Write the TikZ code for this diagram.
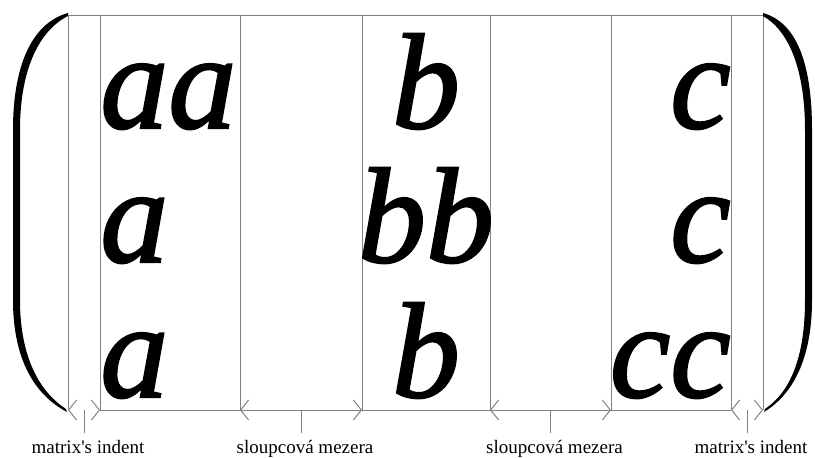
\documentclass[tikz,border=0pt]{standalone}
\usepackage{fontspec}
\setmainfont{Liberation Serif}
\newfontface\cellfont[FakeBold=1.6]{Liberation Serif Italic}
\usetikzlibrary{arrows.meta,calc}
\tikzset{
  guide/.style={draw=black!50, line width=0.5pt},
  gap/.style={draw=white, line width=0.5pt,
    {Straight Barb[length=4pt, width=10pt, color=black!50]}-{Straight Barb[length=4pt, width=10pt, color=black!50]}},
  cell/.style={inner sep=0pt, font=\fontsize{68}{68}\cellfont},
  gaplab/.style={inner sep=0pt, anchor=base, font=\fontsize{9.5}{11}\selectfont},
  paren/.style={fill=black},
}

\begin{document}
\begin{tikzpicture}[x=0.5pt, y=-0.5pt]
  \useasboundingbox (0,0) rectangle (815,457);
  % guide points
  \foreach \x [count=\i] in {68,100,240,362,490,611,731,763} {
    \coordinate (t\i) at (\x,15);
    \coordinate (b\i) at (\x,410);
  }
  % gaps and their labels
  \foreach \a/\b/\txt [count=\j] in {1/2/matrix\textquotesingle s indent,
      3/4/sloupcová mezera, 5/6/sloupcová mezera, 7/8/matrix\textquotesingle s indent} {
    \draw[gap] (b\a) -- (b\b);
    \draw[guide] ($(b\a)!.5!(b\b)$) -- ++(0,23) coordinate (k\j);
    \node[gaplab] (lab\j) at ($(k\j)+(4,20)$) {\txt};
  }
  % frame
  \foreach \i in {1,...,8}
    \draw[guide] (t\i) -- (b\i);
  \draw[guide] (t1) -- (t8);
  \draw[guide] (b2) -- (b7);
  % entries
  \node[cell, anchor=base west] (a11) at (100,128) {aa};
  \node[cell, anchor=base] (a12) at (426,128) {b};
  \node[cell, anchor=base east] (a13) at (731,128) {c};
  \node[cell, anchor=base west] (a21) at (100,262) {a};
  \node[cell, anchor=base] (a22) at (426,262) {bb};
  \node[cell, anchor=base east] (a23) at (731,262) {c};
  \node[cell, anchor=base west] (a31) at (100,397) {a};
  \node[cell, anchor=base] (a32) at (426,397) {b};
  \node[cell, anchor=base east] (a33) at (731,397) {cc};
  % delimiters
  \fill[paren] (68,13) .. controls (35,22) and (13,60) .. (13,130) -- (13,300)
    .. controls (13,360) and (35,395) .. (67,412)
    -- (66,409) .. controls (40,392) and (20,358) .. (20,300) -- (20,130)
    .. controls (20,68) and (40,30) .. (68,16) -- cycle;
  \fill[paren] (763,13) .. controls (795,22) and (812,60) .. (812,130) -- (812,300)
    .. controls (812,360) and (792,395) .. (764,412)
    -- (765,409) .. controls (790,392) and (805,358) .. (805,300) -- (805,130)
    .. controls (805,68) and (788,30) .. (763,16) -- cycle;
\end{tikzpicture}
\end{document}
